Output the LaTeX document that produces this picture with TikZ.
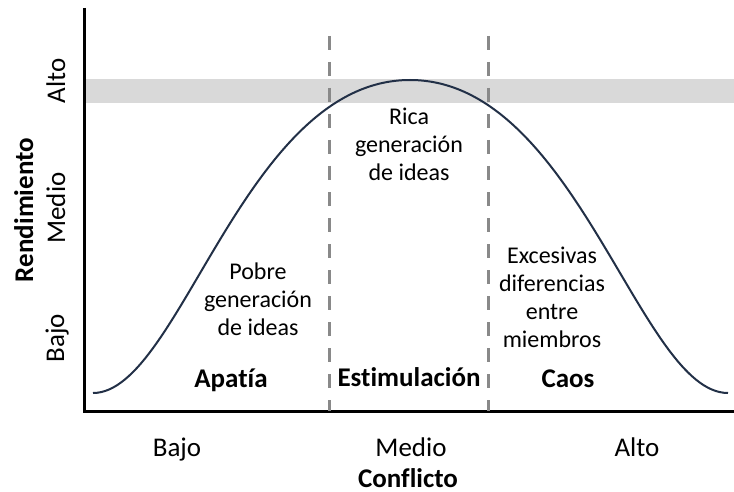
\documentclass[tikz,border=0pt]{standalone}
\usepackage{fontspec}
\setmainfont{Carlito}[Ligatures=NoCommon]
\usetikzlibrary{positioning}
\definecolor{curveblue}{HTML}{223047}
\definecolor{bandgray}{HTML}{D9D9D9}
\definecolor{dashgray}{HTML}{898989}

\begin{document}
\begin{tikzpicture}[x=1bp,y=-1bp,
    txt/.style={font=\fontsize{24bp}{28bp}\selectfont, align=center, inner sep=0pt},
    region/.style={font=\fontsize{27bp}{30bp}\selectfont\bfseries, inner sep=0pt, anchor=base},
    tick/.style={font=\fontsize{27bp}{30bp}\selectfont, inner sep=0pt, anchor=base},
    divider/.style={dashgray, line width=3bp, dash pattern=on 14bp off 12bp}]
    \useasboundingbox (0,0) rectangle (734,492);

    % Band
    \fill[bandgray] (85,79) rectangle (734,103);

    % Axes
    \coordinate (ytop) at (84,8);
    \coordinate (origin) at (84,411);
    \coordinate (xend) at (734,411);
    \draw[line width=3bp] (ytop) -- (origin) -- (xend);

    % Dividers
    \coordinate (d1a) at (329,36);
    \coordinate (d1b) at (329,411);
    \coordinate (d2a) at (488,36);
    \coordinate (d2b) at (488,411);
    \draw[divider] (d1a) -- (d1b);
    \draw[divider] (d2a) -- (d2b);

    % Curve
    \coordinate (c0) at (93,393);
    \coordinate (peak) at (410,80);
    \coordinate (c1) at (728,393);
    \draw[curveblue, line width=2bp] (c0) .. controls (180,393) and (244,80) .. (peak)
        .. controls (576,80) and (640,393) .. (c1);

    % Zones
    \node[txt] (pobre) at (258,299) {Pobre\\generación\\de ideas};
    \node[txt] (rica) at (409,144) {Rica\\generación\\de ideas};
    \node[txt] (excesivas) at (552,297) {Excesivas\\diferencias\\entre\\miembros};
    \node[region] (apatia) at (231,387) {Apatía};
    \node[region] (estim) at (409,386) {Estimulación};
    \node[region] (caos) at (568,387) {Caos};

    % Axis labels
    \node[tick] (xbajo) at (177,456) {Bajo};
    \node[tick] (xmedio) at (411,456) {Medio};
    \node[tick] (xalto) at (637,456) {Alto};
    \node[tick, font=\fontsize{27bp}{30bp}\selectfont\bfseries] (conflicto) at (408,487) {Conflicto};
    \node[tick, rotate=90] (yalto) at (65,81) {Alto};
    \node[tick, rotate=90] (ymedio) at (65,208) {Medio};
    \node[tick, rotate=90] (ybajo) at (64,338) {Bajo};
    \node[tick, rotate=90, font=\fontsize{27bp}{30bp}\selectfont\bfseries] (rend) at (33,210) {Rendimiento};
\end{tikzpicture}
\end{document}
